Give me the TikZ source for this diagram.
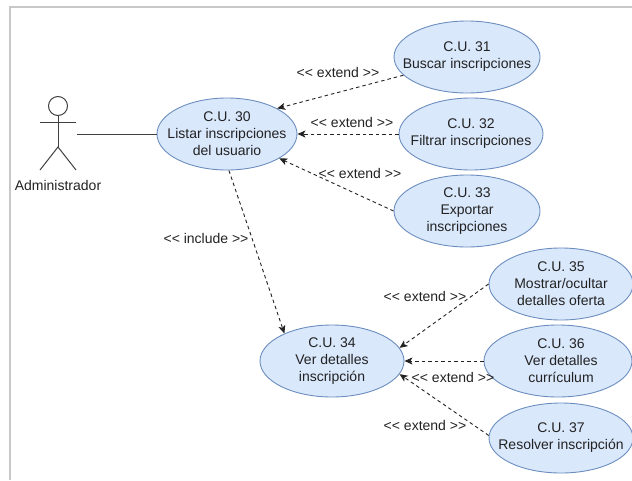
\documentclass[tikz,border=0pt]{standalone}
\usepackage{fontspec}
\setmainfont{Liberation Sans}[Ligatures=TeXOff]
\usetikzlibrary{shapes.geometric,arrows.meta}
\definecolor{ucfill}{HTML}{DAE8FC}
\definecolor{ucdraw}{HTML}{6C8EBF}
\definecolor{framegray}{HTML}{C8C8C8}
\definecolor{ink}{HTML}{222222}

\begin{document}
\begin{tikzpicture}[x=1pt,y=-1pt,
  usecase/.style={ellipse, draw=ucdraw, fill=ucfill, line width=0.9pt,
    minimum width=144pt, minimum height=72pt, inner sep=0pt},
  uctext/.style={align=center, inner sep=0pt,
    font=\fontsize{14}{17}\selectfont, text=ink},
  rel/.style={draw=ink, line width=0.9pt, dash pattern=on 3.5pt off 3pt,
    -{Stealth[length=8pt,width=7pt,inset=2pt]}},
  lbl/.style={font=\fontsize{14}{17}\selectfont, inner sep=0pt, text=ink},
  actorline/.style={draw=black!75, line width=1pt}]
\useasboundingbox (0,0) rectangle (632,480);

% frame of the diagram
\draw[framegray, line width=1.5pt] (10,480) -- (10,7) -- (632,7);

% actor
\node[circle, actorline, minimum size=19pt, inner sep=0pt] (head) at (58,106) {};
\coordinate (hip) at (58,147);
\coordinate (armL) at (40,122);
\coordinate (armR) at (76,122);
\coordinate (footL) at (40,170);
\coordinate (footR) at (76,170);
\draw[actorline] (head.south) -- (hip);
\draw[actorline] (armL) -- (armR);
\draw[actorline] (footL) -- (hip) -- (footR);
\node[lbl] (actorname) at (58,185) {Administrador};
\coordinate (actorside) at (77,134);

% use cases: ellipse shapes
\node[usecase, minimum width=140pt] (e30) at (227,134) {};
\node[usecase, minimum width=146pt] (e31) at (467,57) {};
\node[usecase] (e32) at (471,134) {};
\node[usecase, minimum width=146pt] (e33) at (467,211) {};
\node[usecase] (e34) at (332,361) {};
\node[usecase] (e35) at (561,284) {};
\node[usecase, minimum width=148pt] (e36) at (558,361) {};
\node[usecase, minimum height=70pt] (e37) at (561,438) {};

% use cases: titles
\node[uctext] (t30) at (e30) {C.U. 30\\Listar inscripciones\\del usuario};
\node[uctext] (t31) at (e31) {C.U. 31\\Buscar inscripciones};
\node[uctext] (t32) at (e32) {C.U. 32\\Filtrar inscripciones};
\node[uctext] (t33) at (e33) {C.U. 33\\Exportar\\inscripciones};
\node[uctext] (t34) at (e34) {C.U. 34\\Ver detalles\\inscripción};
\node[uctext] (t35) at (e35) {C.U. 35\\Mostrar/ocultar\\detalles oferta};
\node[uctext] (t36) at ([xshift=3pt]e36.center) {C.U. 36\\Ver detalles\\currículum};
\node[uctext] (t37) at (e37) {C.U. 37\\Resolver inscripción};

% association
\draw[actorline] (actorside) -- (e30.west);

% relations
\draw[rel] (e31.196) -- (e30.27);
\draw[rel] (e32.west) -- (e30.east);
\draw[rel] (e33.west) -- (e30.-25);
\draw[rel] (e30.-87) -- (e34.150);
\draw[rel] (e35.west) -- (e34.11);
\draw[rel] (e36.west) -- (e34.east);
\draw[rel] (e37.178) -- (e34.-11);

% relation labels
\node[lbl] (l31) at (338,72) {<< extend >>};
\node[lbl] (l32) at (352,122) {<< extend >>};
\node[lbl] (l33) at (360,173) {<< extend >>};
\node[lbl] (l34) at (206,238) {<< include >>};
\node[lbl] (l35) at (425,296) {<< extend >>};
\node[lbl] (l36) at (453,377) {<< extend >>};
\node[lbl] (l37) at (425,425) {<< extend >>};
\end{tikzpicture}
\end{document}
